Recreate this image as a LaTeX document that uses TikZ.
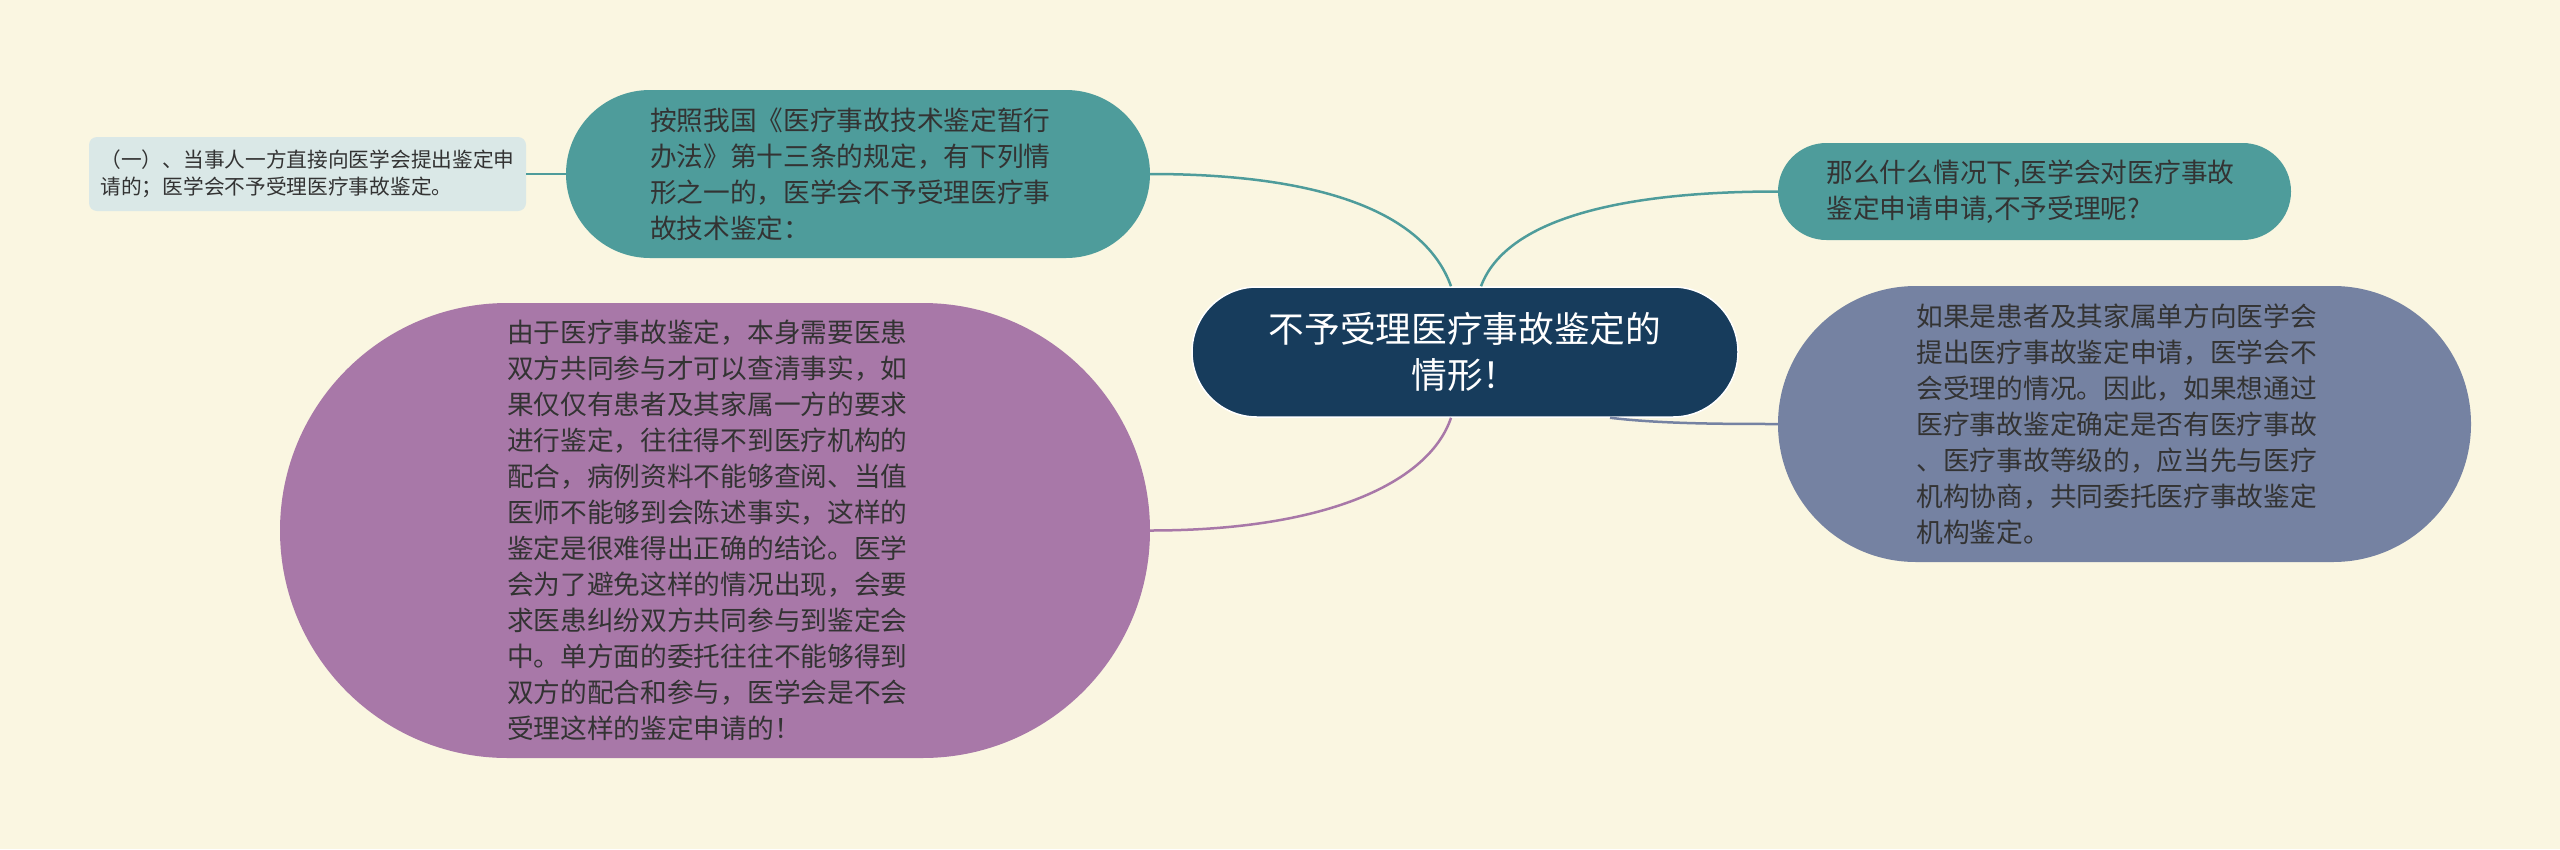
\documentclass[tikz,border=0pt]{standalone}
\usepackage{fontspec}
\setmainfont{Noto Sans CJK SC}
\usepackage{tikz}
\usetikzlibrary{
  positioning
}
\definecolor{bgcream}{HTML}{FAF6E1}
\definecolor{tealc}{HTML}{4E9C9B}
\definecolor{navyc}{HTML}{173C5C}
\definecolor{purplec}{HTML}{A878A8}
\definecolor{slatec}{HTML}{7582A2}
\definecolor{palec}{HTML}{DAE8E7}
\definecolor{inkc}{HTML}{333333}

\begin{document}
\begin{tikzpicture}[x=1pt,y=-1pt,
    leaf/.style={inner sep=0pt, text width=416pt, align=left, text=inkc,
      font=\fontsize{26.7pt}{36pt}\selectfont},
    link/.style={line width=2.5pt}]

        \fill[bgcream] (0,0) rectangle (2560,849);

        \node[fill=navyc, draw=white, line width=1.5pt, inner sep=0pt,
            minimum width=546pt, minimum height=130pt, rounded corners=64.9pt,
            text=white, align=center, font=\fontsize{35.7pt}{46pt}\selectfont]
            (hub) at (1465,352) {不予受理医疗事故鉴定的\\情形！};

        \node[leaf, fill=tealc, minimum width=584pt, minimum height=168pt,
            rounded corners=83.9pt] (rule) at (858,174)
            {按照我国《医疗事故技术鉴定暂行\\办法》第十三条的规定，有下列情\\形之一的，医学会不予受理医疗事\\故技术鉴定：};
        \node[inner sep=0pt, fill=palec, minimum width=437pt, minimum height=74pt,
            rounded corners=8pt, text width=414pt, align=left, text=inkc,
            font=\fontsize{20.7pt}{26.7pt}\selectfont] (case) at (307.5,174)
            {（一）、当事人一方直接向医学会提出鉴定申\\请的；医学会不予受理医疗事故鉴定。};
        \node[leaf, fill=purplec, minimum width=870pt, minimum height=455pt,
            rounded corners=227.4pt] (reason) at (715,530.5)
            {由于医疗事故鉴定，本身需要医患\\双方共同参与才可以查清事实，如\\果仅仅有患者及其家属一方的要求\\进行鉴定，往往得不到医疗机构的\\配合，病例资料不能够查阅、当值\\医师不能够到会陈述事实，这样的\\鉴定是很难得出正确的结论。医学\\会为了避免这样的情况出现，会要\\求医患纠纷双方共同参与到鉴定会\\中。单方面的委托往往不能够得到\\双方的配合和参与，医学会是不会\\受理这样的鉴定申请的！};
        \node[leaf, fill=tealc, minimum width=513pt, minimum height=97pt,
            rounded corners=48.4pt] (ask) at (2034.5,191.5)
            {那么什么情况下,医学会对医疗事故\\鉴定申请申请,不予受理呢?};
        \node[leaf, fill=slatec, minimum width=693pt, minimum height=276pt,
            rounded corners=137.9pt] (advice) at (2124.5,424)
            {如果是患者及其家属单方向医学会\\提出医疗事故鉴定申请，医学会不\\会受理的情况。因此，如果想通过\\医疗事故鉴定确定是否有医疗事故\\、医疗事故等级的，应当先与医疗\\机构协商，共同委托医疗事故鉴定\\机构鉴定。};

        \draw[link, tealc] (rule.east) .. controls +(180,0) and +(-25,-70) .. ([xshift=-14pt]hub.north);
        \draw[link, tealc] ([xshift=16pt]hub.north) .. controls +(25,-67) and +(-158,0) .. (ask.west);
        \draw[link, purplec] ([xshift=-14pt]hub.south) .. controls +(-21,63) and +(180,0) .. (reason.east);
        \draw[link, slatec] ([xshift=145pt]hub.south) .. controls +(50,6) and +(-57,0) .. (advice.west);
        \draw[link, tealc] (case.east) -- (rule.west);
    \end{tikzpicture}
\end{document}
